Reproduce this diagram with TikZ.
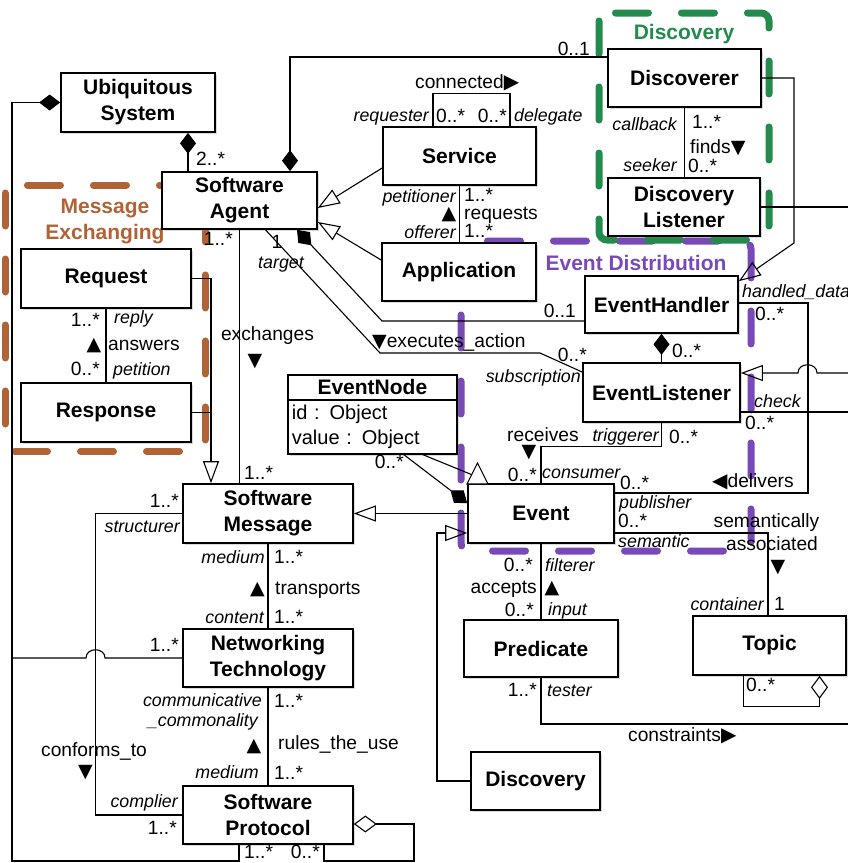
\documentclass[tikz,border=0pt]{standalone}
\usepackage{fontspec}
\setmainfont{Liberation Sans}
\newfontfamily\trifont{DejaVu Sans}
\usetikzlibrary{arrows.meta,shapes.multipart,shadows}

\definecolor{mexbrown}{RGB}{178,99,54}
\definecolor{discgreen}{RGB}{35,139,76}
\definecolor{distpurple}{RGB}{121,73,183}

\newcommand\boxfont{\fontsize{21}{26}\selectfont\bfseries}
\newcommand\labfont{\fontsize{19.2}{22}\selectfont}
\newcommand\rolefont{\fontsize{17.8}{21}\selectfont\itshape}
\newcommand\triup{{\trifont\fontsize{19}{19}\selectfont ▲}}
\newcommand\tridn{{\trifont\fontsize{19}{19}\selectfont ▼}}
\newcommand\trirt{{\trifont\fontsize{20}{20}\selectfont ▶}}
\newcommand\trilt{{\trifont\fontsize{20}{20}\selectfont ◀}}

\tikzset{
	cls/.style={draw, line width=1.7pt, fill=white, align=center, inner sep=0pt, minimum width=153pt, minimum height=58pt, font=\boxfont, drop shadow={opacity=0.3, shadow xshift=2pt, shadow yshift=-2pt}},
	lab/.style={inner sep=0pt, font=\labfont, text height=13.8pt, text depth=0pt},
	role/.style={inner sep=0pt, font=\rolefont, text height=12.8pt, text depth=0pt},
	tri/.style={inner sep=0pt, text height=11pt, text depth=0pt},
	title/.style={inner sep=0pt, font=\boxfont, align=center},
	region/.style={line width=7pt, line cap=round, dash pattern=on 33pt off 33pt, rounded corners=8pt},
	conn/.style={line width=1.1pt},
	gen/.style={conn, -{Triangle[open, length=22pt, width=16pt]}},
	comp/.style={conn, {Diamond[length=21pt, width=16pt]}-},
	compend/.style={conn, -{Diamond[length=21pt, width=16pt]}},
	agg/.style={conn, {Diamond[open, length=23pt, width=17pt]}-}
}

\begin{document}
\begin{tikzpicture}[x=1pt,y=-1pt]
	\useasboundingbox (0,0) rectangle (848,863);
	\draw[region, mexbrown] (5,185) rectangle (205,451);
	\draw[region, distpurple] (461,241) rectangle (751,551);
	\draw[region, discgreen] (599,13) rectangle (769,240);
	\node (mexlab) [title, mexbrown] at (105,221) {Message\\Exchanging};
	\node (disclab) [title, discgreen] at (684,34) {Discovery};
	\node (distlab) [title, distpurple] at (636,263) {Event Distribution};

	\node (usys) [cls, minimum width=154pt, minimum height=59pt] at (138,102.5) {Ubiquitous\\System};
	\node (agent) [cls, minimum width=155pt, minimum height=57pt] at (239.5,200.5) {Software\\Agent};
	\node (service) [cls] at (459.5,156) {Service};
	\node (discoverer) [cls] at (684.5,78) {Discoverer};
	\node (dlistener) [cls, minimum width=152pt] at (684,207) {Discovery\\Listener};
	\node (application) [cls, minimum width=154pt] at (459,272) {Application};
	\node (handler) [cls, minimum height=57pt] at (661.5,304.5) {EventHandler};
	\node (listener) [cls, minimum width=157pt, minimum height=59pt] at (661.5,392.5) {EventListener};
	\node (request) [cls, minimum width=170pt, minimum height=59pt] at (106,278.5) {Request};
	\node (response) [cls, minimum width=170pt, minimum height=59pt] at (106,412.5) {Response};
	\node (enode) [draw, line width=1.7pt, fill=white, drop shadow={opacity=0.3, shadow xshift=2pt, shadow yshift=-2pt}, rectangle split, rectangle split parts=2, anchor=north west, text width=161pt, inner xsep=4pt, inner ysep=4pt, align=left, font=\fontsize{20}{25.5}\selectfont] at (287,374) {\makebox[161pt]{\boxfont EventNode}\nodepart{two}id : Object\\value : Object};
	\node (event) [cls, minimum width=146pt, minimum height=59pt] at (541,513.5) {Event};
	\node (smsg) [cls, minimum width=170pt, minimum height=59pt] at (268,513.5) {Software\\Message};
	\node (ntech) [cls, minimum width=170pt] at (268,658) {Networking\\Technology};
	\node (sproto) [cls, minimum width=170pt] at (268,815) {Software\\Protocol};
	\node (predicate) [cls, minimum width=154pt, minimum height=57pt] at (541,648.5) {Predicate};
	\node (topic) [cls, minimum height=59pt] at (769.5,645.5) {Topic};
	\node (discovery) [cls, minimum width=129pt] at (535.5,781) {Discovery};

	\coordinate (dlout) at (848,207);
	\coordinate (chkout) at (848,412);
	\coordinate (genin) at (848,373);
	\coordinate (conout) at (848,724);
	\coordinate (ntout) at (11,658);
	\coordinate (rjoin) at (211,412.5);
	\coordinate (eventgen) at (477.5,463);

	\draw[comp] ([xshift=50]usys.south) -- ([xshift=-51.5]agent.north);
	\draw[comp] (usys.west) -| (12,861) -| ([xshift=-29]sproto.south);
	\draw[agg] ([yshift=-9]sproto.east) -| (414,861) -| ([xshift=56]sproto.south);
	\draw[comp] ([xshift=50.5]agent.north) |- ([yshift=21]discoverer.west);
	\draw[gen] ([yshift=-12]service.west) -- ([yshift=-7.5]agent.east);
	\draw[gen] ([yshift=12]application.west) -- ([yshift=-21.5]agent.east);
	\draw[conn] ([xshift=-26.5]service.north) -- ++(0,-33) -| ([xshift=50.5]service.north);
	\draw[conn] (service.south) -- (service.south |- application.north);
	\draw[conn] (discoverer.south) -- (discoverer.south |- dlistener.north);
	\draw[gen] (discoverer.east) -| (794,243) -- ([yshift=-6]handler.north east);
	\draw[conn] (dlistener.east) -- (dlout);
	\draw[comp] ([xshift=57.5]agent.south) -- (382,321) -- ([yshift=-16.5]handler.west);
	\draw[conn] ([xshift=26]agent.south) -- (380,353) -- (540,353) -- ([yshift=20.5]listener.west);
	\draw[comp] (handler.south) -- (listener.north);
	\draw[conn] ([yshift=1.5]handler.east) -| (808,493) -- ([yshift=20.5]event.east);
	\draw[conn] (listener.south) -- ++(0,24) -| (event.north);
	\draw[conn] ([yshift=-19.5]listener.east) -- (chkout);
	\draw[gen] (genin) -- (817,373) .. controls (817,362) and (798,362) .. (798,373) -- ([yshift=19.5]listener.east);
	\draw[compend] ([xshift=31.5]enode.south) -- ([yshift=10.5]event.west);
	\draw[conn] ([xshift=50.5]enode.south) -- ([shift={(0,14)}]eventgen);
	\draw[conn, fill=white] (eventgen) -- ++(10.5,21) -- ++(-21,0) -- cycle;
	\draw[gen] (event.west) -- (smsg.east);
	\draw[gen] (discovery.west) -| (437,533) -- ([yshift=-19.5]event.west);
	\draw[conn] (event.south) -- (predicate.north);
	\draw[conn] ([yshift=-19.5]event.east) -| ([xshift=-1.5]topic.north);
	\draw[agg] ([xshift=50]topic.south) -- ++(0,31) -| ([xshift=-26]topic.south);
	\draw[conn] (predicate.south) |- (conout);
	\draw[conn] (agent.south) -- (agent.south |- smsg.north);
	\draw[gen] (request.east) -| ([xshift=-57]smsg.north);
	\draw[conn] (response.east) -- (rjoin);
	\draw[conn] (request.south) -- (response.north);
	\draw[conn] (smsg.west) -- ++(-87,0) |- (sproto.west);
	\draw[conn] (ntech.west) -- (105,658) .. controls (105,647) and (86,647) .. (86,658) -- (ntout);
	\draw[conn] (smsg.south) -- (ntech.north);
	\draw[conn] (ntech.south) -- (sproto.north);

	\node (m1) [lab, anchor=west] at (196,159) {2..*};
	\node (m2) [lab, anchor=east] at (590,49) {0..1};
	\node (cnd) [lab, anchor=west] at (415,82) {connected\trirt};
	\node (rq) [role, anchor=east] at (429,115) {requester};
	\node (m3) [lab, anchor=west] at (436,116) {0..*};
	\node (m4) [lab, anchor=east] at (507,116) {0..*};
	\node (dg) [role, anchor=west] at (514,115) {delegate};
	\node (pt) [role, anchor=east] at (456,196) {petitioner};
	\node (m5) [lab, anchor=west] at (464,195) {1..*};
	\node (rqs) [lab, anchor=west] at (464,213) {requests};
	\node (a1) [tri] at (449,214) {\triup};
	\node (of) [role, anchor=east] at (456,232) {offerer};
	\node (m6) [lab, anchor=west] at (464,231) {1..*};
	\node (cb) [role, anchor=east] at (677,124) {callback};
	\node (m7) [lab, anchor=west] at (692,122) {1..*};
	\node (fd) [lab, anchor=west] at (690,147) {finds\tridn};
	\node (sk) [role, anchor=east] at (677,165) {seeker};
	\node (m8) [lab, anchor=west] at (688,166) {0..*};
	\node (m9) [lab, anchor=east] at (576,311) {0..1};
	\node (one) [lab] at (277,242) {1};
	\node (tg) [role] at (281,262) {target};
	\node (ex) [lab, anchor=west] at (372,341) {\tridn executes\_action};
	\node (m10) [lab, anchor=east] at (587,355) {0..*};
	\node (sb) [role, anchor=east] at (581,376) {subscription};
	\node (m11) [lab, anchor=west] at (672,351) {0..*};
	\node (hd) [role, anchor=west] at (742,291) {handled\_data};
	\node (m12) [lab, anchor=west] at (755,314) {0..*};
	\node (dv) [lab, anchor=west] at (712,481) {\trilt delivers};
	\node (m13) [lab, anchor=west] at (620,483) {0..*};
	\node (pb) [role, anchor=west] at (619,502) {publisher};
	\node (rc) [lab, anchor=west] at (507,435) {receives};
	\node (tr) [role, anchor=east] at (659,435) {triggerer};
	\node (m14) [lab, anchor=west] at (669,437) {0..*};
	\node (a2) [tri] at (529,452) {\tridn};
	\node (m15) [lab, anchor=east] at (537,475) {0..*};
	\node (cs) [role, anchor=west] at (542,472) {consumer};
	\node (ck) [role, anchor=west] at (754,401) {check};
	\node (m16) [lab, anchor=west] at (745,423) {0..*};
	\node (m17) [lab, anchor=east] at (404,462) {0..*};
	\node (m18) [lab, anchor=east] at (533,565) {0..*};
	\node (fl) [role, anchor=west] at (545,565) {filterer};
	\node (ac) [lab, anchor=east] at (537,587) {accepts};
	\node (a3) [tri] at (552,588) {\triup};
	\node (m19) [lab, anchor=east] at (534,610) {0..*};
	\node (in) [role, anchor=west] at (548,609) {input};
	\node (m20) [lab, anchor=west] at (618,521) {0..*};
	\node (sm) [role, anchor=west] at (618,541) {semantic};
	\node (sa1) [lab] at (766.5,521) {semantically};
	\node (sa2) [lab] at (772,544) {associated};
	\node (a4) [tri] at (778,567) {\tridn};
	\node (ct) [role, anchor=east] at (764,604) {container};
	\node (m21) [lab, anchor=west] at (774,604) {1};
	\node (m22) [lab, anchor=west] at (746,685) {0..*};
	\node (m23) [lab, anchor=east] at (537,690) {1..*};
	\node (ts) [role, anchor=west] at (547,690) {tester};
	\node (cn) [lab, anchor=west] at (628,735) {constraints\trirt};
	\node (m24) [lab, anchor=east] at (233,239) {1..*};
	\node (exc) [lab] at (267.5,334) {exchanges};
	\node (a5) [tri] at (255,361) {\tridn};
	\node (m25) [lab, anchor=west] at (244,473) {1..*};
	\node (m26) [lab, anchor=east] at (100,320) {1..*};
	\node (rp) [role, anchor=west] at (114,317) {reply};
	\node (a6) [tri] at (94,345) {\triup};
	\node (an) [lab, anchor=west] at (108,344) {answers};
	\node (m27) [lab, anchor=east] at (100,369) {0..*};
	\node (pe) [role, anchor=west] at (113,369) {petition};
	\node (m28) [lab, anchor=east] at (179,501) {1..*};
	\node (st) [role, anchor=east] at (180,526) {structurer};
	\node (m29) [lab, anchor=east] at (179,645) {1..*};
	\node (cf) [lab] at (94,750) {conforms\_to};
	\node (a7) [tri] at (85.5,772) {\tridn};
	\node (cp) [role, anchor=east] at (178,801) {complier};
	\node (m30) [lab, anchor=east] at (177,828) {1..*};
	\node (md1) [role, anchor=east] at (265,557) {medium};
	\node (m31) [lab, anchor=west] at (274,557) {1..*};
	\node (a8) [tri] at (257.5,589) {\triup};
	\node (tp) [lab, anchor=west] at (275,588) {transports};
	\node (co) [role, anchor=east] at (264,617) {content};
	\node (m32) [lab, anchor=west] at (274,617) {1..*};
	\node (cm1) [role, anchor=east] at (262,700) {communicative};
	\node (cm2) [role, anchor=east] at (258,720) {\_commonality};
	\node (m33) [lab, anchor=west] at (274,701) {1..*};
	\node (a9) [tri] at (254,746) {\triup};
	\node (ru) [lab, anchor=west] at (278,743) {rules\_the\_use};
	\node (md2) [role, anchor=east] at (259,772) {medium};
	\node (m34) [lab, anchor=west] at (274,773) {1..*};
	\node (m35) [lab, anchor=west] at (244,852) {1..*};
	\node (m36) [lab, anchor=east] at (320,852) {0..*};
\end{tikzpicture}
\end{document}
